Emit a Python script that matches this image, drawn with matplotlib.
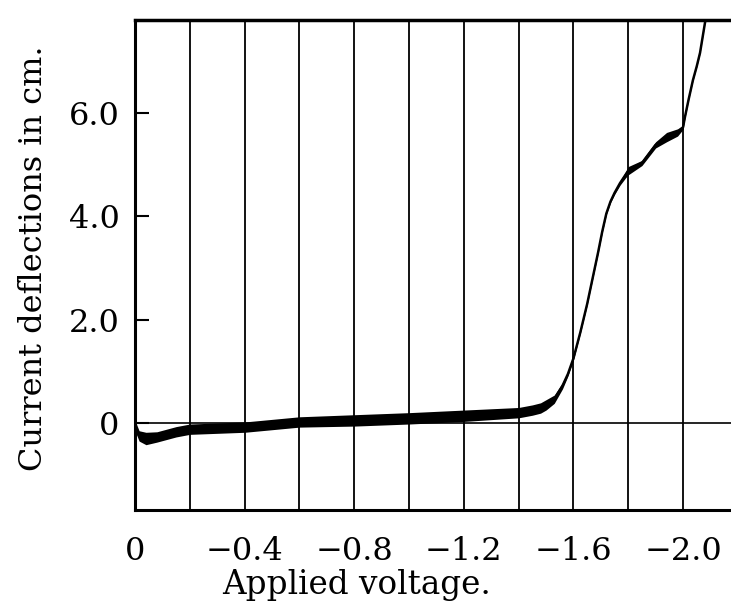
import numpy as np
import matplotlib.pyplot as plt

# polarogram: applied voltage (V) vs current deflection (cm)
voltage = [0.0, -0.015, -0.04, -0.08, -0.15, -0.2, -0.4, -0.6, -0.8, -1.0,
           -1.2, -1.4, -1.45, -1.48, -1.5, -1.53, -1.56, -1.58, -1.6, -1.625,
           -1.65, -1.67, -1.69, -1.705, -1.72, -1.735, -1.75, -1.77, -1.79, -1.8,
           -1.85, -1.9, -1.94, -1.98, -2.0, -2.007, -2.02, -2.036, -2.05, -2.062,
           -2.08, -2.09]
deflection = [-0.05, -0.25, -0.3, -0.27, -0.17, -0.12, -0.08, 0.02, 0.05, 0.09,
              0.14, 0.2, 0.25, 0.29, 0.35, 0.46, 0.72, 0.95, 1.25, 1.75,
              2.3, 2.8, 3.3, 3.7, 4.05, 4.28, 4.45, 4.64, 4.8, 4.88,
              5.03, 5.38, 5.53, 5.62, 5.72, 5.92, 6.25, 6.63, 6.9, 7.16,
              7.74, 8.0]
# half amplitude of the galvanometer swing
swing = [0.1, 0.1, 0.12, 0.1, 0.1, 0.1, 0.1, 0.1, 0.11, 0.11,
         0.11, 0.1, 0.1, 0.1, 0.1, 0.08, 0.06, 0.04, 0.03, 0.02,
         0.02, 0.02, 0.02, 0.02, 0.02, 0.02, 0.03, 0.04, 0.06, 0.08,
         0.05, 0.06, 0.09, 0.07, 0.04, 0.02, 0.01, 0.01, 0.01, 0.01,
         0.01, 0.01]

grid_volts = [-0.2, -0.4, -0.6, -0.8, -1.0, -1.2, -1.4, -1.6, -1.8, -2.0]
xtick_vals = [0, -0.4, -0.8, -1.2, -1.6, -2.0]
xtick_text = ['0', '\u22120.4', '\u22120.8', '\u22121.2', '\u22121.6', '\u22122.0']
ytick_vals = [0, 2, 4, 6]
ytick_text = ['0', '2.0', '4.0', '6.0']

plt.rcParams['font.family'] = ['DejaVu Serif']

fig = plt.figure(figsize=(7.31, 6.08), dpi=100)
ax = fig.add_axes([135 / 731, 98 / 608, 596 / 731, 490 / 608])

x = np.array(voltage)
y = np.array(deflection)
w = np.array(swing)

for v in grid_volts:
    ax.axvline(v, color='black', lw=1.3, zorder=1)
ax.axhline(0, color='black', lw=1.2, zorder=1)

ax.fill_between(x, y - w, y + w, color='black', lw=0, zorder=3)
ax.plot(x, y, color='black', lw=1.8, zorder=3, solid_joinstyle='round')

ax.set_xlim(0, -2.175)
ax.set_ylim(-1.683, 7.795)

ax.set_xticks(xtick_vals)
ax.set_xticklabels(xtick_text)
ax.set_yticks(ytick_vals)
ax.set_yticklabels(ytick_text)
ax.tick_params(axis='x', length=0, pad=19, labelsize=23)
ax.tick_params(axis='y', direction='in', length=10, width=1.5, pad=11, labelsize=23)

ax.spines['right'].set_visible(False)
ax.spines['top'].set_linewidth(2.5)
ax.spines['left'].set_linewidth(2.2)
ax.spines['bottom'].set_linewidth(2.2)

ax.set_xlabel('Applied voltage.', fontsize=23.5)
ax.xaxis.set_label_coords(0.372, -0.12)
ax.set_ylabel('Current deflections in cm.', fontsize=23)
ax.yaxis.set_label_coords(-0.145, 0.514)

fig.savefig('out.png', dpi=100)
